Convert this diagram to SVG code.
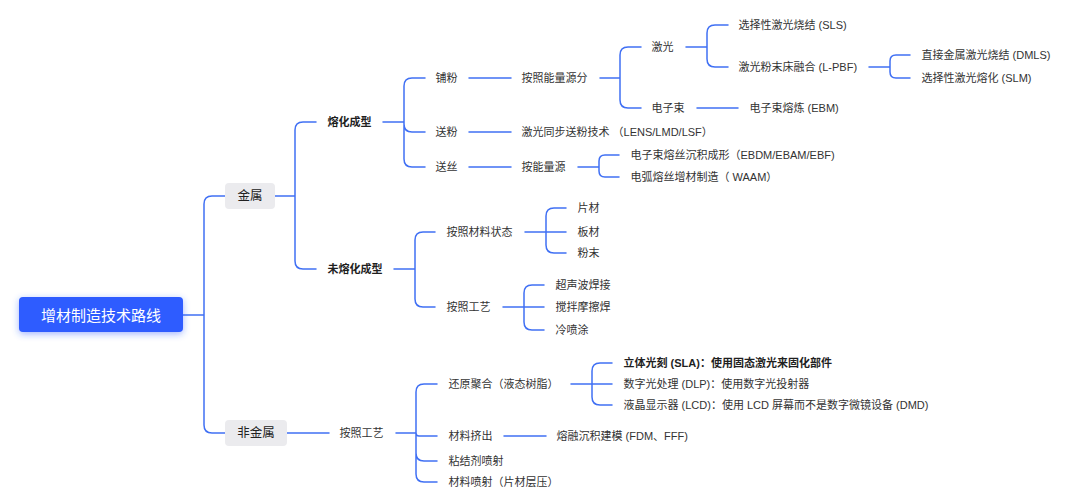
<svg xmlns="http://www.w3.org/2000/svg" width="1080" height="500" viewBox="0 0 1080 500">
<defs>
<filter id="glow" x="-30%" y="-60%" width="160%" height="220%">
<feDropShadow dx="0" dy="2" stdDeviation="3.5" flood-color="#2d5bff" flood-opacity="0.45"/>
</filter>
<style>
text{font-family:"Liberation Sans","Noto Sans CJK SC",sans-serif;font-size:11px;fill:#333;dominant-baseline:central}
.b{font-weight:bold;fill:#1f1f1f}
.g{font-size:12.5px;fill:#222;text-anchor:middle}
.root{font-size:15px;fill:#fff;text-anchor:middle}
.box{fill:#ebebee}
#connectors path{fill:none;stroke:#4070f4;stroke-width:1.5;stroke-linecap:round}
</style>
</defs>
<rect width="1080" height="500" fill="#fff"/>
<g id="connectors">
<path d="M183,315 H204 M204,315 V204 Q204,196 212,196 H225 M204,315 V425 Q204,433 212,433 H225"/>
<path d="M275,196 H295 M295,196 V130 Q295,122 303,122 H316 M295,196 V261 Q295,269 303,269 H316"/>
<path d="M383,122 H404 M404,122 V86 Q404,78 412,78 H425 M404,122 V124 Q404,132 412,132 H425 M404,122 V159 Q404,167 412,167 H425"/>
<path d="M469,78 H511"/>
<path d="M600,78 H620 M620,78 V55 Q620,47 628,47 H641 M620,78 V100 Q620,108 628,108 H641"/>
<path d="M686,47 H707 M707,47 V33 Q707,25 715,25 H728 M707,47 V59 Q707,67 715,67 H728"/>
<path d="M869,67 H890 M890,67 V61 Q890,55 896,55 H910 M890,67 V72 Q890,78 896,78 H910"/>
<path d="M697,108 H738"/>
<path d="M469,132 H511"/>
<path d="M469,167 H511"/>
<path d="M578,167 H599 M599,167 V161 Q599,155 605,155 H619 M599,167 V171 Q599,177 605,177 H619"/>
<path d="M394,269 H415 M415,269 V240 Q415,232 423,232 H435 M415,269 V299 Q415,307 423,307 H435"/>
<path d="M525,232 H546 M546,232 V216 Q546,208 554,208 H566 M546,232 H566 M546,232 V245 Q546,253 554,253 H566"/>
<path d="M503,307 H524 M524,307 V293 Q524,285 532,285 H544 M524,307 H544 M524,307 V322 Q524,330 532,330 H544"/>
<path d="M287,433 H329"/>
<path d="M396,433 H416 M416,433 V392 Q416,384 424,384 H437 M416,433 Q416,436 419,436 H437 M416,433 V453 Q416,461 424,461 H437 M416,433 V474 Q416,482 424,482 H437"/>
<path d="M571,384 H592 M592,384 V371 Q592,363 600,363 H612 M592,384 H612 M592,384 V397 Q592,405 600,405 H612"/>
<path d="M504,436 H546"/>
</g>
<g id="n-root"><rect x="19" y="297" width="164" height="35" rx="4" fill="#2d5bff" filter="url(#glow)"/><text class="root" x="101" y="315">增材制造技术路线</text></g>
<g id="n-metal"><rect class="box" x="225" y="183" width="50" height="26" rx="4"/><text class="g" x="250" y="196">金属</text></g>
<g id="n-nonmetal"><rect class="box" x="225" y="420" width="62" height="26" rx="4"/><text class="g" x="256" y="433">非金属</text></g>
<g id="n-melt"><text class="b" x="327.5" y="122">熔化成型</text></g>
<g id="n-nomelt"><text class="b" x="327.5" y="269">未熔化成型</text></g>
<g id="n-pufen"><text x="435.5" y="78">铺粉</text></g>
<g id="n-songfen"><text x="435.5" y="132">送粉</text></g>
<g id="n-songsi"><text x="435.5" y="167">送丝</text></g>
<g id="n-energy"><text x="521.5" y="78">按照能量源分</text></g>
<g id="n-lens"><text x="521.5" y="132">激光同步送粉技术 （LENS/LMD/LSF）</text></g>
<g id="n-energy2"><text x="521.5" y="167">按能量源</text></g>
<g id="n-laser"><text x="651.5" y="47">激光</text></g>
<g id="n-ebeam"><text x="651.5" y="108">电子束</text></g>
<g id="n-sls"><text x="738.5" y="25">选择性激光烧结 (SLS)</text></g>
<g id="n-lpbf"><text x="738.5" y="67">激光粉末床融合 (L-PBF)</text></g>
<g id="n-dmls"><text x="921.5" y="55">直接金属激光烧结 (DMLS)</text></g>
<g id="n-slm"><text x="921.5" y="78">选择性激光熔化 (SLM)</text></g>
<g id="n-ebm"><text x="749.5" y="108">电子束熔炼 (EBM)</text></g>
<g id="n-ebdm"><text x="630.5" y="155">电子束熔丝沉积成形（EBDM/EBAM/EBF)</text></g>
<g id="n-waam"><text x="630.5" y="177">电弧熔丝增材制造（ WAAM）</text></g>
<g id="n-state"><text x="446.5" y="232">按照材料状态</text></g>
<g id="n-proc1"><text x="446.5" y="307">按照工艺</text></g>
<g id="n-sheet"><text x="577.5" y="208">片材</text></g>
<g id="n-plate"><text x="577.5" y="232">板材</text></g>
<g id="n-powder"><text x="577.5" y="253">粉末</text></g>
<g id="n-ultra"><text x="555.5" y="285">超声波焊接</text></g>
<g id="n-fsw"><text x="555.5" y="307">搅拌摩擦焊</text></g>
<g id="n-cold"><text x="555.5" y="330">冷喷涂</text></g>
<g id="n-proc2"><text x="339.5" y="433">按照工艺</text></g>
<g id="n-vat"><text x="448.5" y="384">还原聚合（液态树脂）</text></g>
<g id="n-ext"><text x="448.5" y="436">材料挤出</text></g>
<g id="n-binder"><text x="448.5" y="461">粘结剂喷射</text></g>
<g id="n-jet"><text x="448.5" y="482">材料喷射（片材层压）</text></g>
<g id="n-sla"><text class="b" x="623.5" y="363">立体光刻 (SLA)：使用固态激光来固化部件</text></g>
<g id="n-dlp"><text x="623.5" y="384">数字光处理 (DLP)：使用数字光投射器</text></g>
<g id="n-lcd"><text x="623.5" y="405">液晶显示器 (LCD)：使用 LCD 屏幕而不是数字微镜设备 (DMD)</text></g>
<g id="n-fdm"><text x="556.5" y="436">熔融沉积建模 (FDM、FFF)</text></g>
</svg>
